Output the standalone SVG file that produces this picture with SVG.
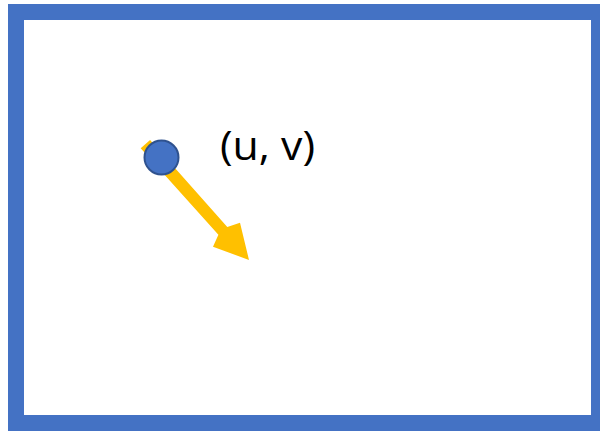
<svg xmlns="http://www.w3.org/2000/svg" width="600" height="432" viewBox="0 0 600 432">
<style>
.frame{fill:#FFFFFF;stroke:#4472C4;stroke-width:16}
.pt{fill:#4472C4;stroke:#2F528F;stroke-width:2}
.vec{fill:#FFC000;stroke:none}
.lbl{font-family:"Open Sans","Noto Sans",sans-serif;font-size:40px;fill:#000000}
</style>
<rect class="frame" x="16" y="12" width="583" height="411"/>
<g id="connectors">
<polygon class="vec" points="140.7,148.3 150.1,140.1 227.3,226.9 240,222.7 249,260 213,246.7 218.4,234.7"/>
</g>
<g id="point">
<circle class="pt" cx="161.5" cy="157.5" r="17"/>
</g>
<g id="label">
<text class="lbl" x="220" y="160" textLength="95" lengthAdjust="spacingAndGlyphs">(u, v)</text>
</g>
</svg>
